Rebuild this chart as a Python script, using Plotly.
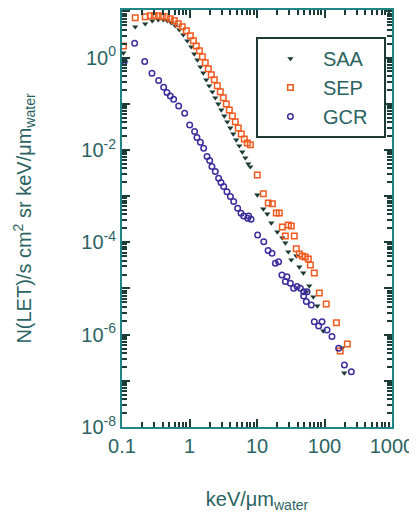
import plotly.graph_objects as go

# ---------------- data ----------------
saa_x = [0.1045, 0.157, 0.221, 0.281, 0.345, 0.409, 0.469, 0.537, 0.616, 0.706,
         0.810, 0.927, 1.06, 1.18, 1.31, 1.45, 1.60, 1.77, 1.96, 2.18,
         2.41, 2.67, 2.96, 3.28, 3.63, 4.02, 4.45, 4.93, 5.47, 6.06,
         6.71, 7.43, 7.96,
         10.1, 12.4, 14.2, 16.3, 20.0, 23.7, 26.3, 29.1, 32.2, 38.2,
         42.4, 48.5, 59.6, 53.7, 68.2, 78.2, 95.9, 184, 196]
saa_y = [1.26, 4.62, 5.37, 6.24, 6.56, 6.56, 6.24, 5.65, 4.86, 3.98,
         3.10, 2.30, 1.71, 1.20, 0.89, 0.63, 0.466, 0.329, 0.244, 0.181,
         0.134, 0.0993, 0.0736, 0.0546, 0.0405, 0.0300, 0.0222, 0.0165, 0.01225, 0.00907,
         0.00673, 0.00499, 0.00430,
         1.06e-3, 5.28e-4, 4.12e-4, 2.63e-4, 1.68e-4, 1.25e-4, 9.7e-5, 6.2e-5, 4.16e-5, 5.07e-5,
         2.93e-5, 2.17e-5, 1.14e-5, 8.4e-6, 6.6e-6, 4.19e-6, 1.20e-6, 5.2e-7, 1.48e-7]

sep_x = [0.105, 0.157, 0.221, 0.262, 0.301, 0.345, 0.396, 0.453, 0.519, 0.596,
         0.682, 0.782, 0.897, 1.03, 1.14, 1.26, 1.40, 1.55, 1.71, 1.90,
         2.10, 2.33, 2.58, 2.86, 3.17, 3.51, 3.89, 4.31, 4.77, 5.28,
         5.85, 6.48, 7.18, 7.96,
         10.1, 12.4, 14.7, 16.9, 19.3, 21.4, 23.7, 29.1, 32.2, 26.3,
         35.7, 38.2, 42.4, 46.9, 52.0, 57.6, 61.7, 70.6, 83.8, 106,
         150, 218, 171]
sep_y = [1.79, 7.24, 7.62, 8.00, 8.00, 8.00, 7.62, 7.62, 6.89, 6.24,
         5.37, 4.62, 3.79, 2.95, 2.30, 1.79, 1.40, 1.04, 0.768, 0.569,
         0.422, 0.329, 0.244, 0.181, 0.134, 0.0993, 0.0736, 0.0546, 0.0405, 0.0300,
         0.0222, 0.0173, 0.0142, 0.0129,
         2.88e-3, 1.12e-3, 7.1e-4, 6.8e-4, 4.33e-4, 4.33e-4, 2.15e-4, 2.38e-4, 2.26e-4, 1.37e-4,
         1.37e-4, 7.2e-5, 5.6e-5, 5.07e-5, 4.82e-5, 4.36e-5, 3.24e-5, 2.17e-5, 8.0e-6, 4.63e-6,
         1.80e-6, 6.3e-7, 4.4e-7]

gcr_x = [0.108, 0.154, 0.217, 0.278, 0.349, 0.414, 0.464, 0.520, 0.582, 0.691,
         0.848, 1.006, 1.19, 1.29, 1.45, 1.62, 1.82, 1.99, 2.15, 2.41,
         2.70, 2.93, 3.21, 3.59, 4.03, 4.51, 5.17, 5.80, 6.34, 7.27,
         8.15, 7.53,
         10.2, 12.6, 14.6, 16.7, 18.7, 20.9, 23.4, 27.8, 26.3, 31.2,
         34.9, 39.2, 43.9, 49.1, 55.1, 49.1, 53.8, 63.8, 70.6, 82.0,
         91.9, 109, 129, 162, 197, 250]
gcr_y = [0.82, 2.04, 0.82, 0.458, 0.318, 0.228, 0.175, 0.148, 0.125, 0.0897,
         0.0622, 0.0348, 0.0250, 0.0185, 0.01466, 0.01087, 0.00718, 0.00587, 0.00435, 0.00340,
         0.00243, 0.00196, 0.00161, 0.00125, 0.000975, 0.00076, 0.000545, 0.000425, 0.000372, 0.000331,
         0.000315, 0.000372,
         1.44e-4, 1.03e-4, 6.6e-5, 5.8e-5, 3.5e-5, 3.8e-5, 1.96e-5, 1.80e-5, 1.41e-5, 1.29e-5,
         1.01e-5, 1.10e-5, 1.01e-5, 8.5e-6, 8.5e-6, 6.9e-6, 5.2e-6, 4.4e-6, 1.91e-6, 1.54e-6,
         1.91e-6, 1.26e-6, 9.1e-7, 5.1e-7, 2.2e-7, 1.58e-7]

x_tickvals = [0.1, 1, 10, 100, 1000]
x_ticktext = ["0.1", "1", "10", "100", "1000"]
y_tickvals = [1e-8, 1e-7, 1e-6, 1e-5, 1e-4, 1e-3, 1e-2, 1e-1, 1e0, 1e1]
y_ticktext = ["10<sup>-8</sup>", "", "10<sup>-6</sup>", "", "10<sup>-4</sup>", "",
              "10<sup>-2</sup>", "", "10<sup>0</sup>", ""]

# ---------------- styling ----------------
TEXT = "#2b6363"
AXIS = "#1f8585"
TICK = "#1c3a36"
FONT = "Liberation Sans, Arial, sans-serif"

fig = go.Figure()
fig.add_trace(go.Scatter(x=saa_x, y=saa_y, mode="markers", name="SAA\u00a0\u00a0",
                         marker=dict(symbol="triangle-down", size=5.5, color="#1b3b33",
                                     line=dict(width=0))))
fig.add_trace(go.Scatter(x=sep_x, y=sep_y, mode="markers", name="SEP\u00a0\u00a0",
                         marker=dict(symbol="square-open", size=5.5, color="#ef5a1f",
                                     line=dict(width=1.5, color="#ef5a1f"))))
fig.add_trace(go.Scatter(x=gcr_x, y=gcr_y, mode="markers", name="GCR\u00a0\u00a0",
                         marker=dict(symbol="circle-open", size=5.5, color="#3b2e9c",
                                     line=dict(width=1.5, color="#3b2e9c"))))

axis_common = dict(
    type="log", showgrid=False, zeroline=False, automargin=False,
    showline=True, linecolor=AXIS, linewidth=2, mirror="allticks",
    ticks="inside", ticklen=8, tickwidth=2, tickcolor=TICK,
    ticklabeloverflow="allow",
    tickfont=dict(family=FONT, size=20, color=TEXT),
    minor=dict(ticks="inside", ticklen=5, tickwidth=1.5, tickcolor=TICK,
               dtick="D1", showgrid=False),
)

fig.update_xaxes(**axis_common, range=[-1, 3], tickmode="array",
                 tickvals=x_tickvals, ticktext=x_ticktext,
                 title=dict(text="keV/μm<sub>water</sub>", standoff=36,
                            font=dict(family=FONT, size=20, color=TEXT)))
fig.update_yaxes(**axis_common, range=[-8, 1.03], tickmode="array",
                 tickvals=y_tickvals, ticktext=y_ticktext,
                 title=dict(text="N(LET)/s cm<sup>2</sup> sr keV/μm<sub>water</sub>",
                            standoff=44, font=dict(family=FONT, size=20, color=TEXT)))

# the page body adds an 8px offset, so the figure is sized to compensate
fig.update_layout(
    width=409, height=513,
    margin=dict(l=114, r=25, t=2, b=94),
    paper_bgcolor="white", plot_bgcolor="white",
    font=dict(family=FONT, color=TEXT),
    legend=dict(x=0.496, y=0.935, xanchor="left", yanchor="top",
                bordercolor="#1c3a36", borderwidth=2, bgcolor="white",
                font=dict(family=FONT, size=20, color=TEXT),
                itemwidth=55, tracegroupgap=0),
)

fig.write_html("out.html")
